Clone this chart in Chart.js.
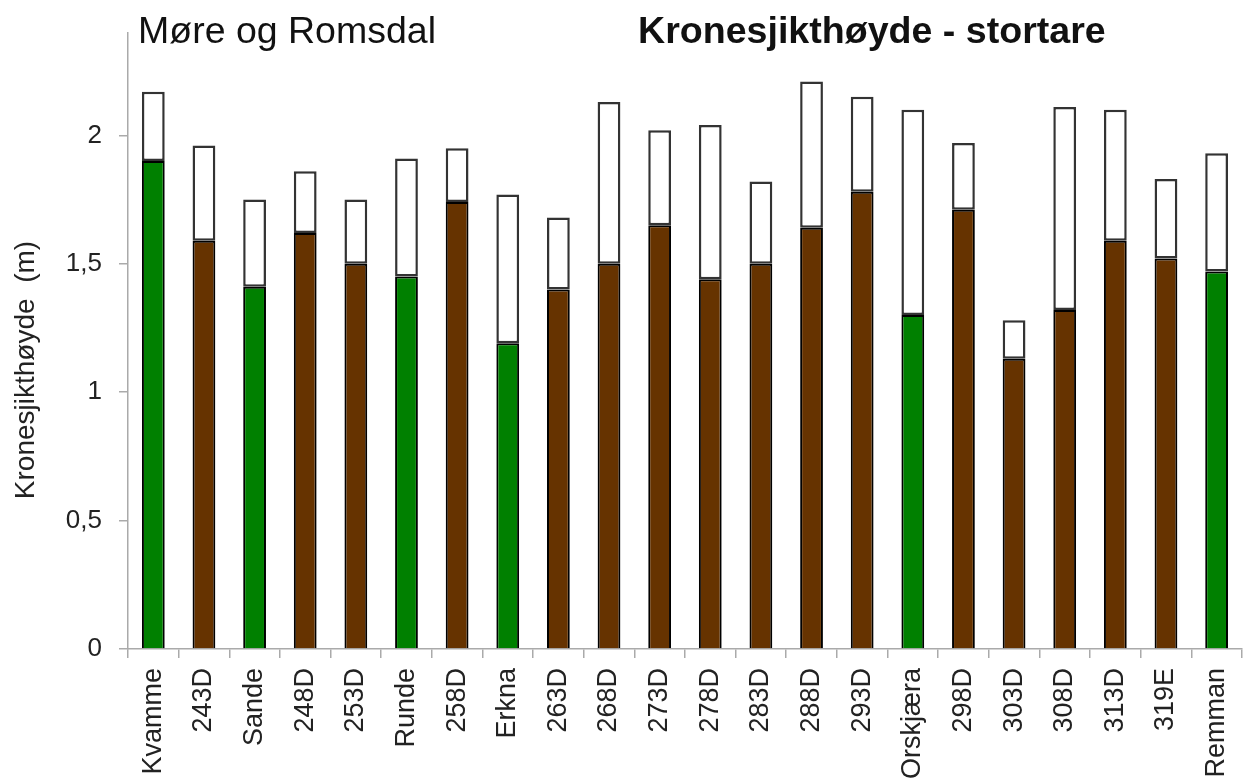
<!DOCTYPE html>
<html>
<head>
<meta charset="utf-8">
<script src="https://cdn.jsdelivr.net/npm/chart.js@4/dist/chart.umd.min.js"></script>
<style>
  body { margin: 0; overflow: hidden; background: #fff; }
</style>
</head>
<body>
<canvas id="graficoKrone" width="1259" height="783"></canvas>
<script>
let graficoKrone = document.getElementById("graficoKrone")

// stasjoner langs x-aksen
const stasjoner = ['Kvamme','243D','Sande','248D','253D','Runde','258D','Erkna','263D','268D','273D',
  '278D','283D','288D','293D','Orskjæra','298D','303D','308D','313D','319E','Remman']
// referansestasjon (grønn) eller vanlig stasjon (brun)
const referanse = [true,false,true,false,false,true,false,true,false,false,false,
  false,false,false,false,true,false,false,false,false,false,true]
// nedre del av søyla (m)
const hoydeNedre = [1.90,1.59,1.41,1.62,1.50,1.45,1.74,1.19,1.40,1.50,1.65,
  1.44,1.50,1.64,1.78,1.30,1.71,1.13,1.32,1.59,1.52,1.47]
// toppen av søyla (m)
const hoydeTopp = [2.17,1.96,1.75,1.86,1.75,1.91,1.95,1.77,1.68,2.13,2.02,
  2.04,1.82,2.21,2.15,2.10,1.97,1.28,2.11,2.10,1.83,1.93]
const yTicks = [0, 0.5, 1, 1.5, 2]

const tekster = {
  id: 'tekster',
  afterDraw(chart) {
    let ctx = chart.ctx
    ctx.save()
    ctx.fillStyle = '#111'
    ctx.textBaseline = 'alphabetic'
    ctx.textAlign = 'left'
    ctx.font = '37.5px "Liberation Sans", Arial, sans-serif'
    ctx.fillText('Møre og Romsdal', 138, 43)
    ctx.font = 'bold 37.6px "Liberation Sans", Arial, sans-serif'
    ctx.fillText('Kronesjikthøyde - stortare', 638, 43)
    // y-aksetittel
    ctx.translate(26, 370)
    ctx.rotate(-Math.PI / 2)
    ctx.textAlign = 'center'
    ctx.textBaseline = 'middle'
    ctx.font = '28px "Liberation Sans", Arial, sans-serif'
    ctx.fillStyle = '#222'
    ctx.fillText('Kronesjikthøyde  (m)', 0, 0)
    ctx.restore()
  }
}

let grafico = new Chart(graficoKrone, {
    type: 'bar',
    data: {
        labels: stasjoner,
        datasets: [{
            label: 'nedre',
            data: hoydeNedre,
            backgroundColor: referanse.map(r => r ? '#008000' : '#663300'),
            borderColor: '#000',
            borderWidth: 2,
            borderSkipped: 'start',
            grouped: false,
            categoryPercentage: 1,
            barPercentage: 0.45
        }, {
            label: 'topp',
            data: stasjoner.map((s, i) => [hoydeNedre[i], hoydeTopp[i]]),
            backgroundColor: '#fff',
            borderColor: '#333',
            borderWidth: 2.5,
            borderSkipped: false,
            grouped: false,
            categoryPercentage: 1,
            barPercentage: 0.45
        }]
    },
    options: {
        responsive: false,
        animation: false,
        devicePixelRatio: 1,
        layout: { padding: { top: 30, left: 0, right: 0, bottom: 0 } },
        plugins: {
          legend: { display: false },
          title: { display: false },
          tooltip: { enabled: false }
        },
        scales: {
          x: {
            grid: { display: true, offset: true, drawOnChartArea: false, tickLength: 9, color: '#aaa', lineWidth: 1.5 },
            border: { color: '#aaa', width: 1.5 },
            ticks: {
              color: '#222',
              font: { family: '"Liberation Sans", Arial, sans-serif', size: 27 },
              minRotation: 90,
              maxRotation: 90,
              padding: 10,
              autoSkip: false
            },
            afterFit(scale) { scale.height = 134 }
          },
          y: {
            min: 0,
            max: 2.4,
            grid: { display: true, drawOnChartArea: false, tickLength: 9, color: '#aaa', lineWidth: 1.5 },
            border: { color: '#aaa', width: 1.5 },
            ticks: {
              color: '#222',
              font: { family: '"Liberation Sans", Arial, sans-serif', size: 26 },
              padding: 17,
              callback: v => String(v).replace('.', ',')
            },
            afterBuildTicks(scale) { scale.ticks = yTicks.map(v => ({ value: v })) },
            afterFit(scale) { scale.width = 128 }
          }
        }
    },
    plugins: [tekster]
});
</script>
</body>
</html>
